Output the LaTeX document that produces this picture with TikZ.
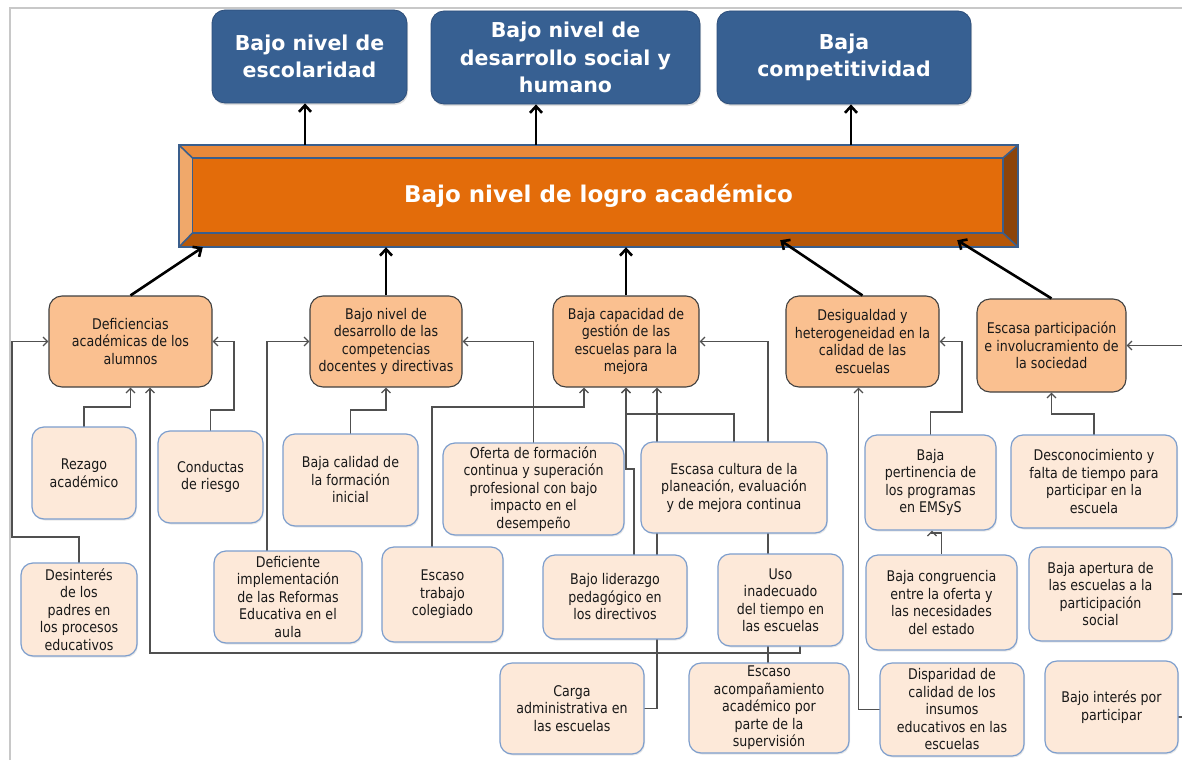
\documentclass[tikz,border=0pt]{standalone}
\usepackage{fontspec}
\setmainfont{DejaVu Sans}
\newfontfamily\bodyfont{DejaVu Sans}[FakeStretch=0.86]
\usetikzlibrary{arrows.meta,shadows}
\definecolor{topblue}{RGB}{55,96,146}
\definecolor{topedge}{RGB}{45,78,122}
\definecolor{barmain}{RGB}{227,108,10}
\definecolor{bartop}{RGB}{233,137,58}
\definecolor{barleft}{RGB}{240,168,106}
\definecolor{barbottom}{RGB}{182,87,8}
\definecolor{barright}{RGB}{140,68,10}
\definecolor{baredge}{RGB}{58,94,140}
\definecolor{midfill}{RGB}{250,192,144}
\definecolor{midedge}{RGB}{64,64,64}
\definecolor{lowfill}{RGB}{253,233,217}
\definecolor{lowedge}{RGB}{125,158,205}
\definecolor{conngray}{RGB}{80,80,80}
\definecolor{framegray}{RGB}{200,200,200}
\begin{document}
\begin{tikzpicture}[x=1pt,y=-1pt,
  topbox/.style={rounded corners=13pt, fill=topblue, draw=topedge, line width=0.8pt,
    text=white, align=center, inner sep=0pt,
    font=\bfseries\fontsize{20.5}{27.5}\selectfont,
    drop shadow={shadow xshift=1pt,shadow yshift=-2pt,opacity=0.25}},
  midbox/.style={rounded corners=13pt, fill=midfill, draw=midedge, line width=1.1pt,
    text=black!90, align=center, inner sep=0pt,
    font=\bodyfont\fontsize{14.7}{17.5}\selectfont},
  lowbox/.style={rounded corners=12pt, fill=lowfill, draw=lowedge, line width=1.2pt,
    text=black!90, align=center, inner sep=0pt,
    font=\bodyfont\fontsize{14.7}{17.5}\selectfont,
    drop shadow={shadow xshift=1pt,shadow yshift=-1.5pt,opacity=0.18}},
  conn/.style={draw=conngray, line width=1.3pt},
  carr/.style={conn, -{Straight Barb[length=4.5pt,width=9pt]}},
  bigarr/.style={draw=black, line width=2.6pt, -{Straight Barb[length=6.5pt,width=12pt]}}
]
\useasboundingbox (0,0) rectangle (1182,760);
\fill[white] (0,0) rectangle (1182,760);
% frame
\draw[framegray, line width=2pt] (9.5,760) -- (9.5,8.5) -- (1182,8.5);

% ---------- bar (bevelled) ----------
\coordinate (onw) at (179,145);  \coordinate (one) at (1018,145);
\coordinate (osw) at (179,247);  \coordinate (ose) at (1018,247);
\coordinate (inw) at (192.5,158); \coordinate (ine) at (1003,158);
\coordinate (isw) at (192.5,233); \coordinate (ise) at (1003,233);
\fill[bartop] (onw) -- (one) -- (ine) -- (inw) -- cycle;
\fill[barleft] (onw) -- (inw) -- (isw) -- (osw) -- cycle;
\fill[barbottom] (osw) -- (isw) -- (ise) -- (ose) -- cycle;
\fill[barright] (one) -- (ose) -- (ise) -- (ine) -- cycle;
\fill[barmain] (inw) rectangle (ise);
\draw[baredge, line width=1.6pt] (inw) rectangle (ise);
\draw[baredge, line width=1.6pt] (onw) -- (inw) (one) -- (ine) (osw) -- (isw) (ose) -- (ise);
\draw[baredge, line width=2.6pt] (onw) rectangle (ose);
\node[minimum width=839pt, minimum height=102pt, inner sep=0pt, text=white,
  font=\bfseries\fontsize{23}{27}\selectfont] (bar) at (598.5,196) {Bajo nivel de logro académico};

% ---------- top boxes ----------
\node[topbox, minimum width=195pt, minimum height=93pt] (T1) at (309.5,56.5) {Bajo nivel de\\escolaridad};
\node[topbox, minimum width=269pt, minimum height=93pt] (T2) at (565.5,57.5) {Bajo nivel de\\desarrollo social y\\humano};
\node[topbox, minimum width=254pt, minimum height=93pt] (T3) at (844,57.5) {Baja\\competitividad};

\coordinate (ax1) at (305,0);
\coordinate (ax2) at (536,0);
\coordinate (ax3) at (851,0);
\draw[bigarr] (bar.north -| ax1) -- (T1.south -| ax1);
\draw[bigarr] (bar.north -| ax2) -- (T2.south -| ax2);
\draw[bigarr] (bar.north -| ax3) -- (T3.south -| ax3);

% ---------- middle boxes ----------
\node[midbox, minimum width=163pt, minimum height=91pt] (M1) at (130.5,341.5) {Deficiencias\\académicas de los\\alumnos};
\node[midbox, minimum width=152pt, minimum height=91pt] (M2) at (386,341.5) {Bajo nivel de\\desarrollo de las\\competencias\\docentes y directivas};
\node[midbox, minimum width=146pt, minimum height=91pt] (M3) at (626,341.5) {Baja capacidad de\\gestión de las\\escuelas para la\\mejora};
\node[midbox, minimum width=153pt, minimum height=91pt] (M4) at (862.5,341.5) {Desigualdad y\\heterogeneidad en la\\calidad de las\\escuelas};
\node[midbox, minimum width=149pt, minimum height=93pt] (M5) at (1051.5,345.5) {Escasa participación\\e involucramiento de\\la sociedad};

% big arrows middle -> bar
\draw[bigarr] (M1.north) -- ([xshift=24pt]bar.south west);
\draw[bigarr] (M2.north) -- (bar.south -| M2.north);
\draw[bigarr] (M3.north) -- (bar.south -| M3.north);
\draw[bigarr] (M4.north) -- ([xshift=-238pt,yshift=7pt]bar.south east);
\draw[bigarr] (M5.north) -- ([xshift=-61pt,yshift=7pt]bar.south east);

% anchor points of the lower boxes (connectors are drawn behind the boxes)
\coordinate (cB1) at (84,427);
\coordinate (cB2) at (210.5,431);
\coordinate (cB3) at (350.5,434);
\coordinate (cB4) at (533.5,443);
\coordinate (cB5) at (734,442);
\coordinate (cB6n) at (930.5,435);
\coordinate (cB7) at (1094,435);
\coordinate (cB8) at (79,563);
\coordinate (cB9) at (267,551);
\coordinate (cB10) at (432,547);
\coordinate (cB11) at (634,555);
\coordinate (cB12) at (800,646);
\coordinate (cB14) at (1172,594);
\coordinate (cB15) at (644,708.5);
\coordinate (cB16) at (768,663);
\coordinate (cB17) at (880,709.5);
\coordinate (cB18) at (1178,717);
\coordinate (edge5) at (1182,345.5);
\coordinate (edge14) at (1182,594);
\coordinate (edge18) at (1182,717);

% connectors
\draw[carr] (cB8) |- (12,537) |- (M1.west);
\draw[carr] (cB1) -- (84,407) -| (M1.south);
\draw[carr] (cB2) |- (234,410) |- (M1.east);
\draw[carr] (cB12) -- ++(0,7) -| ([xshift=19.5pt]M1.south);
\draw[carr] (cB3) -- (350.5,410) -| (M2.south);
\draw[carr] (cB9) |- (M2.west);
\draw[carr] (cB4) |- (M2.east);
\draw[carr] (cB10) -- (432,407) -| ([xshift=-42pt]M3.south);
\draw[carr] (cB11) -- (634,469) -| (M3.south);
\draw[carr] (cB5) -- (734,414) -| (M3.south);
\draw[carr] (cB15) -| ([xshift=31pt]M3.south);
\draw[carr] (cB16) |- (M3.east);
\draw[carr] (cB17) -| ([xshift=-4pt]M4.south);
\draw[carr] (cB6n) |- (962,412) |- (M4.east);
\draw[carr] (cB7) -- (1094,414) -| (M5.south);
\draw[carr] (edge5) -- (M5.east);
\draw[conn] (cB14) -- (edge14);
\draw[conn] (cB18) -- (edge18);

% ---------- lower boxes ----------
\node[lowbox, minimum width=104pt, minimum height=92pt] (B1) at (84,473) {Rezago\\académico};
\node[lowbox, minimum width=105pt, minimum height=92pt] (B2) at (210.5,477) {Conductas\\de riesgo};
\node[lowbox, minimum width=135pt, minimum height=92pt] (B3) at (350.5,480) {Baja calidad de\\la formación\\inicial};
\node[lowbox, minimum width=181pt, minimum height=92pt] (B4) at (533.5,489) {Oferta de formación\\continua y superación\\profesional con bajo\\impacto en el\\desempeño};
\node[lowbox, minimum width=186pt, minimum height=91pt] (B5) at (734,487.5) {Escasa cultura de la\\planeación, evaluación\\y de mejora continua};
\node[lowbox, minimum width=131pt, minimum height=95pt] (B6) at (930.5,482.5) {Baja\\pertinencia de\\los programas\\en EMSyS};
\node[lowbox, minimum width=166pt, minimum height=93pt] (B7) at (1094,481.5) {Desconocimiento y\\falta de tiempo para\\participar en la\\escuela};
\node[lowbox, minimum width=116pt, minimum height=93pt] (B8) at (79,609.5) {Desinterés\\de los\\padres en\\los procesos\\educativos};
\node[lowbox, minimum width=148pt, minimum height=92pt] (B9) at (288,597) {Deficiente\\implementación\\de las Reformas\\Educativa en el\\aula};
\node[lowbox, minimum width=121pt, minimum height=95pt] (B10) at (442.5,594.5) {Escaso\\trabajo\\colegiado};
\node[lowbox, minimum width=144pt, minimum height=84pt] (B11) at (615,597) {Bajo liderazgo\\pedagógico en\\los directivos};
\node[lowbox, minimum width=125pt, minimum height=92pt] (B12) at (780.5,600) {Uso\\inadecuado\\del tiempo en\\las escuelas};
\node[lowbox, minimum width=151pt, minimum height=95pt] (B13) at (941.5,602.5) {Baja congruencia\\entre la oferta y\\las necesidades\\del estado};
\node[lowbox, minimum width=143pt, minimum height=94pt] (B14) at (1100.5,594) {Baja apertura de\\las escuelas a la\\participación\\social};
\node[lowbox, minimum width=144pt, minimum height=91pt] (B15) at (572,708.5) {Carga\\administrativa en\\las escuelas};
\node[lowbox, minimum width=160pt, minimum height=90pt] (B16) at (769,708) {Escaso\\acompañamiento\\académico por\\parte de la\\supervisión};
\node[lowbox, minimum width=144pt, minimum height=93pt] (B17) at (952,709.5) {Disparidad de\\calidad de los\\insumos\\educativos en las\\escuelas};
\node[lowbox, minimum width=133pt, minimum height=92pt] (B18) at (1111.5,707) {Bajo interés por\\participar};

% connector between two lower boxes
\draw[carr] (B13.north) -- (941.5,533) -| ([xshift=1.5pt]B6.south);
\end{tikzpicture}
\end{document}
